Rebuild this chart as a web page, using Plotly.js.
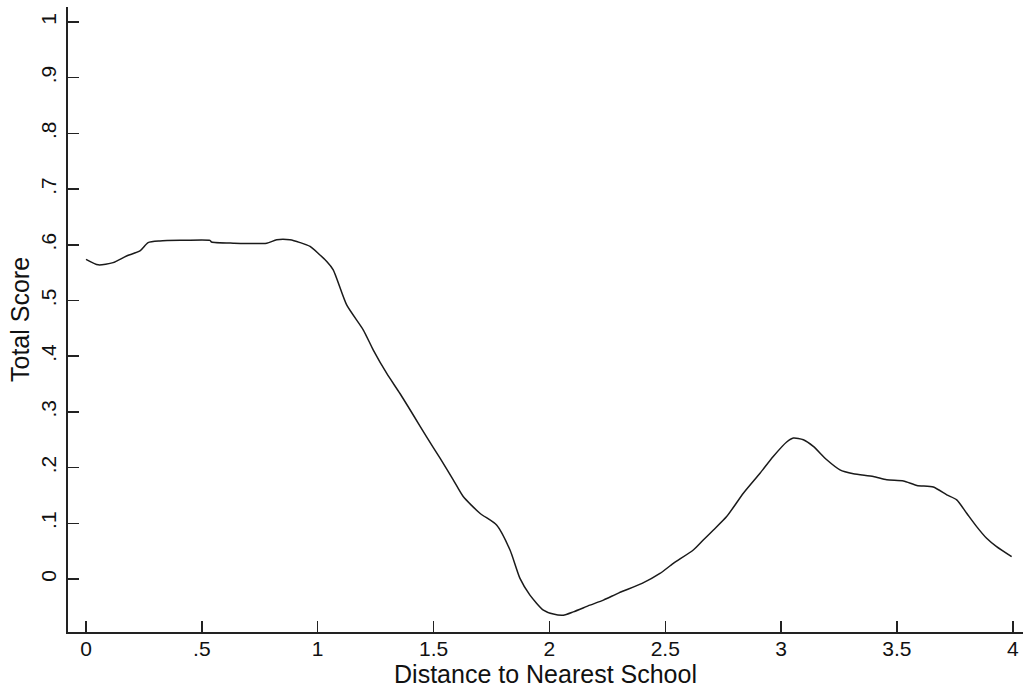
<!DOCTYPE html>
<html>
<head>
<meta charset="utf-8">
<script src="https://cdn.plot.ly/plotly-3.0.1.min.js"></script>
<style>html,body{margin:0;padding:0;background:#fff;}#chart{width:1023px;height:694px;}</style>
</head>
<body>
<div id="chart"></div>
<script>
var distance = [0, 0.053, 0.117, 0.175, 0.233, 0.268, 0.319, 0.406, 0.535, 0.542, 0.635, 0.78, 0.823, 0.88, 0.924, 0.967, 1.039, 1.067, 1.125, 1.197, 1.24, 1.298, 1.355, 1.413, 1.47, 1.528, 1.585, 1.628, 1.7, 1.772, 1.83, 1.873, 1.916, 1.974, 2.017, 2.06, 2.103, 2.175, 2.233, 2.3, 2.4, 2.477, 2.535, 2.621, 2.664, 2.708, 2.765, 2.837, 2.909, 2.966, 3.024, 3.053, 3.096, 3.139, 3.197, 3.254, 3.312, 3.398, 3.456, 3.528, 3.586, 3.657, 3.715, 3.758, 3.801, 3.844, 3.887, 3.93, 3.995];
var totalScore = [0.574, 0.564, 0.568, 0.58, 0.589, 0.604, 0.607, 0.608, 0.608, 0.605, 0.603, 0.603, 0.609, 0.609, 0.604, 0.597, 0.57, 0.555, 0.492, 0.447, 0.411, 0.369, 0.333, 0.294, 0.255, 0.217, 0.178, 0.148, 0.118, 0.097, 0.052, 0.001, -0.029, -0.056, -0.063, -0.065, -0.059, -0.047, -0.038, -0.025, -0.008, 0.01, 0.028, 0.052, 0.07, 0.088, 0.112, 0.154, 0.19, 0.22, 0.246, 0.253, 0.25, 0.238, 0.214, 0.196, 0.189, 0.184, 0.178, 0.176, 0.168, 0.165, 0.151, 0.142, 0.118, 0.094, 0.073, 0.058, 0.04];
var xTickVals = [0, 0.5, 1, 1.5, 2, 2.5, 3, 3.5, 4];
var xTickText = ['0', '.5', '1', '1.5', '2', '2.5', '3', '3.5', '4'];
var yTickVals = [0, 0.1, 0.2, 0.3, 0.4, 0.5, 0.6, 0.7, 0.8, 0.9, 1];
var yTickText = ['0', '.1', '.2', '.3', '.4', '.5', '.6', '.7', '.8', '.9', '1'];

var trace = {
  x: distance, y: totalScore, type: 'scatter', mode: 'lines',
  line: {color: '#1a1a1a', width: 1.5, shape: 'spline', smoothing: 0.6},
  hoverinfo: 'skip'
};
var font = {family: '"Liberation Sans", Arial, sans-serif', color: '#111'};
var layout = {
  width: 1023, height: 694,
  margin: {l: 68, r: 0, t: 7, b: 62, pad: 0},
  paper_bgcolor: '#fff', plot_bgcolor: '#fff',
  showlegend: false,
  font: font,
  xaxis: {
    range: [-0.0777, 4.044], tickvals: xTickVals, ticktext: xTickText,
    ticks: 'inside', ticklen: 11, tickwidth: 1.5, tickcolor: '#222',
    showline: true, linecolor: '#222', linewidth: 2, mirror: false,
    showgrid: false, zeroline: false,
    tickfont: {size: 21, family: font.family, color: '#111'},
    ticklabelstandoff: -3,
    title: {text: 'Distance to Nearest School', font: {size: 25, family: font.family, color: '#111'}, standoff: 0}
  },
  yaxis: {
    range: [-0.0952, 1.027], tickvals: yTickVals, ticktext: yTickText,
    ticks: 'inside', ticklen: 11, tickwidth: 1.5, tickcolor: '#222',
    showline: true, linecolor: '#222', linewidth: 2, mirror: false,
    showgrid: false, zeroline: false,
    tickangle: -90,
    tickfont: {size: 21, family: font.family, color: '#111'},
    ticklabelstandoff: 2,
    title: {text: 'Total Score', font: {size: 25, family: font.family, color: '#111'}, standoff: 0}
  }
};
Plotly.newPlot('chart', [trace], layout, {displayModeBar: false, staticPlot: true});
</script>
</body>
</html>
